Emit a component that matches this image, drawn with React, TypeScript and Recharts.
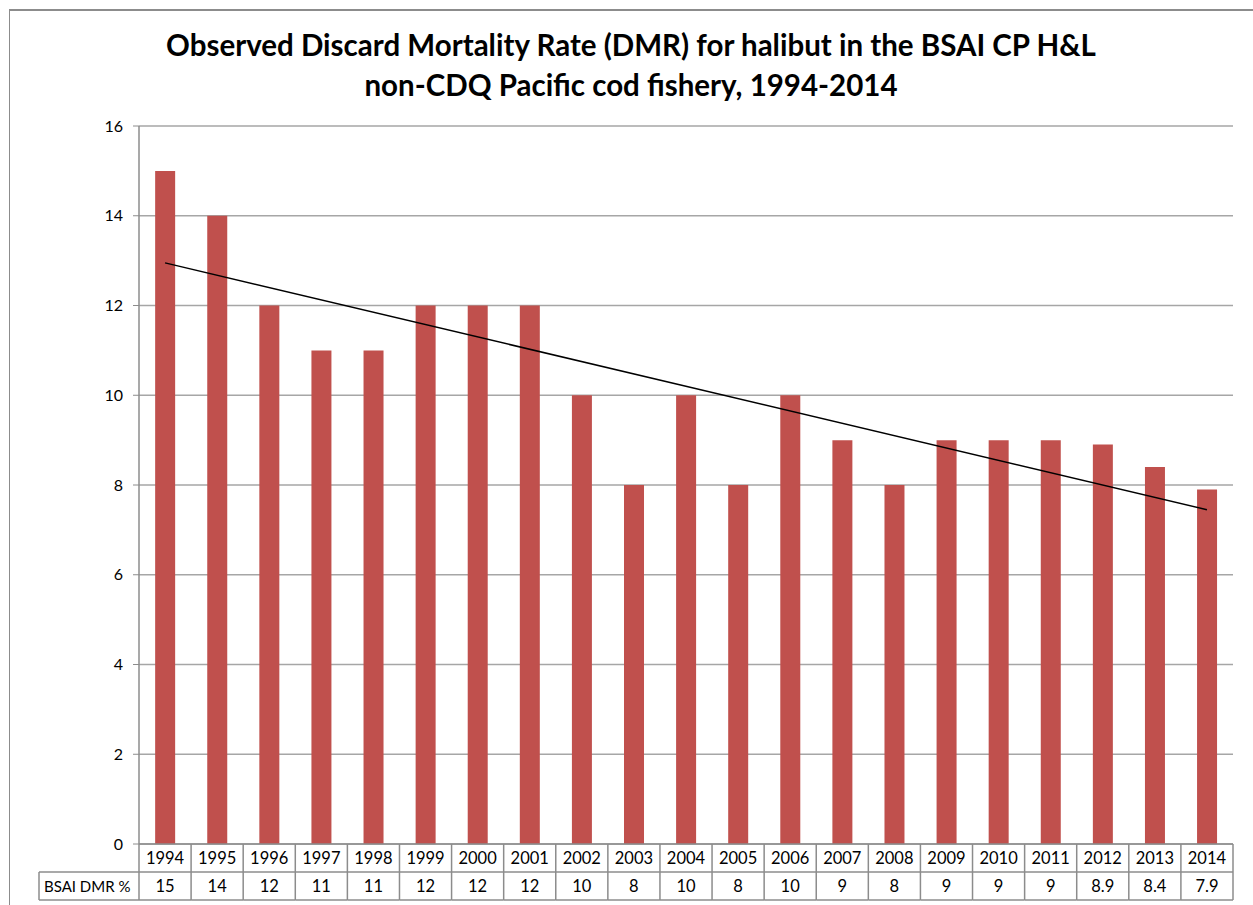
import React from 'react';
import { ComposedChart, Bar, Line, XAxis, YAxis, CartesianGrid } from 'recharts';

const years = ['1994','1995','1996','1997','1998','1999','2000','2001','2002','2003','2004','2005','2006','2007','2008','2009','2010','2011','2012','2013','2014'];
const dmr = [15, 14, 12, 11, 11, 12, 12, 12, 10, 8, 10, 8, 10, 9, 8, 9, 9, 9, 8.9, 8.4, 7.9];
const dmrLabels = ['15','14','12','11','11','12','12','12','10','8','10','8','10','9','8','9','9','9','8.9','8.4','7.9'];
// Linear trendline end points
const trendStart = 12.95;
const trendEnd = 7.45;
const yTicks = [0, 2, 4, 6, 8, 10, 12, 14, 16];
const titleLines = [
  'Observed Discard Mortality Rate (DMR) for halibut in the BSAI CP H&L',
  'non-CDQ Pacific cod fishery, 1994-2014',
];
const rowLabel = 'BSAI DMR %';

const data = years.map((y, i) => ({
  year: y,
  dmr: dmr[i],
  trend: i === 0 ? trendStart : i === years.length - 1 ? trendEnd : null,
}));

const W = 1253;
const H = 905;
const PLOT_LEFT = 139;
const PLOT_RIGHT = 1233;
const PLOT_TOP = 126;
const PLOT_BOTTOM = 844;
const ROW_H = 28;
const CELL_W = (PLOT_RIGHT - PLOT_LEFT) / years.length;
const FONT = 'Lato, "Open Sans", sans-serif';
const BORDER = '#8c8c8c';

const TableTick = (props: any) => {
  const { x, payload } = props;
  const i = payload.index;
  const left = x - CELL_W / 2;
  const r1 = PLOT_BOTTOM;
  const r2 = PLOT_BOTTOM + ROW_H;
  const r3 = PLOT_BOTTOM + 2 * ROW_H;
  return (
    <g>
      {i === 0 && (
        <g>
          <line x1={39} y1={r2} x2={left} y2={r2} stroke={BORDER} strokeWidth={1.5} />
          <line x1={39} y1={r3} x2={left} y2={r3} stroke={BORDER} strokeWidth={1.5} />
          <line x1={39} y1={r2} x2={39} y2={r3} stroke={BORDER} strokeWidth={1.5} />
          <line x1={left} y1={r1} x2={left} y2={r3} stroke={BORDER} strokeWidth={1.5} />
          <text x={44} y={r2 + 20} fontSize={15} fontFamily={FONT} fill="#000">{rowLabel}</text>
        </g>
      )}
      <line x1={left} y1={r2} x2={left + CELL_W} y2={r2} stroke={BORDER} strokeWidth={1.5} />
      <line x1={left} y1={r3} x2={left + CELL_W} y2={r3} stroke={BORDER} strokeWidth={1.5} />
      <line x1={left + CELL_W} y1={r1} x2={left + CELL_W} y2={r3} stroke={BORDER} strokeWidth={1.5} />
      <text x={x} y={r1 + 20} textAnchor="middle" fontSize={16.5} fontFamily={FONT} fill="#000">{payload.value}</text>
      <text x={x} y={r2 + 20} textAnchor="middle" fontSize={16.5} fontFamily={FONT} fill="#000">{dmrLabels[i]}</text>
    </g>
  );
};

export default function App() {
  return (
    <div style={{ position: 'absolute', left: 0, top: 0, width: W, height: H, background: '#fff' }}>
      <div style={{ position: 'absolute', left: 9, top: 9, width: W - 9, height: H - 9, borderLeft: `1px solid ${BORDER}`, borderTop: `2px solid ${BORDER}` }} />
      <div style={{ position: 'absolute', left: 0, top: 25, width: 1262, textAlign: 'center', fontFamily: FONT, fontWeight: 700, fontSize: 29.5, lineHeight: '40px', color: '#000' }}>
        {titleLines.map((t) => (<div key={t}>{t}</div>))}
      </div>
      <div style={{ position: 'absolute', left: 0, top: 0 }}>
        <ComposedChart
          width={W}
          height={H}
          data={data}
          margin={{ top: PLOT_TOP, right: W - PLOT_RIGHT, bottom: H - PLOT_BOTTOM - 58, left: PLOT_LEFT - 50 }}
          barCategoryGap="31%"
        >
          <CartesianGrid vertical={false} stroke="#a6a6a6" strokeWidth={1.3} />
          <XAxis
            dataKey="year"
            height={58}
            tickLine={false}
            axisLine={{ stroke: BORDER, strokeWidth: 1.5 }}
            tick={<TableTick />}
            interval={0}
          />
          <YAxis
            width={50}
            domain={[0, 16]}
            ticks={yTicks}
            tickLine={{ stroke: BORDER }}
            tickSize={6}
            tickMargin={10}
            axisLine={{ stroke: BORDER, strokeWidth: 1.5 }}
            tick={{ fill: '#000', fontSize: 16, fontFamily: FONT }}
          />
          <Bar dataKey="dmr" fill="#C0504D" isAnimationActive={false} />
          <Line dataKey="trend" stroke="#000" strokeWidth={1.5} dot={false} connectNulls isAnimationActive={false} />
        </ComposedChart>
      </div>
    </div>
  );
}
